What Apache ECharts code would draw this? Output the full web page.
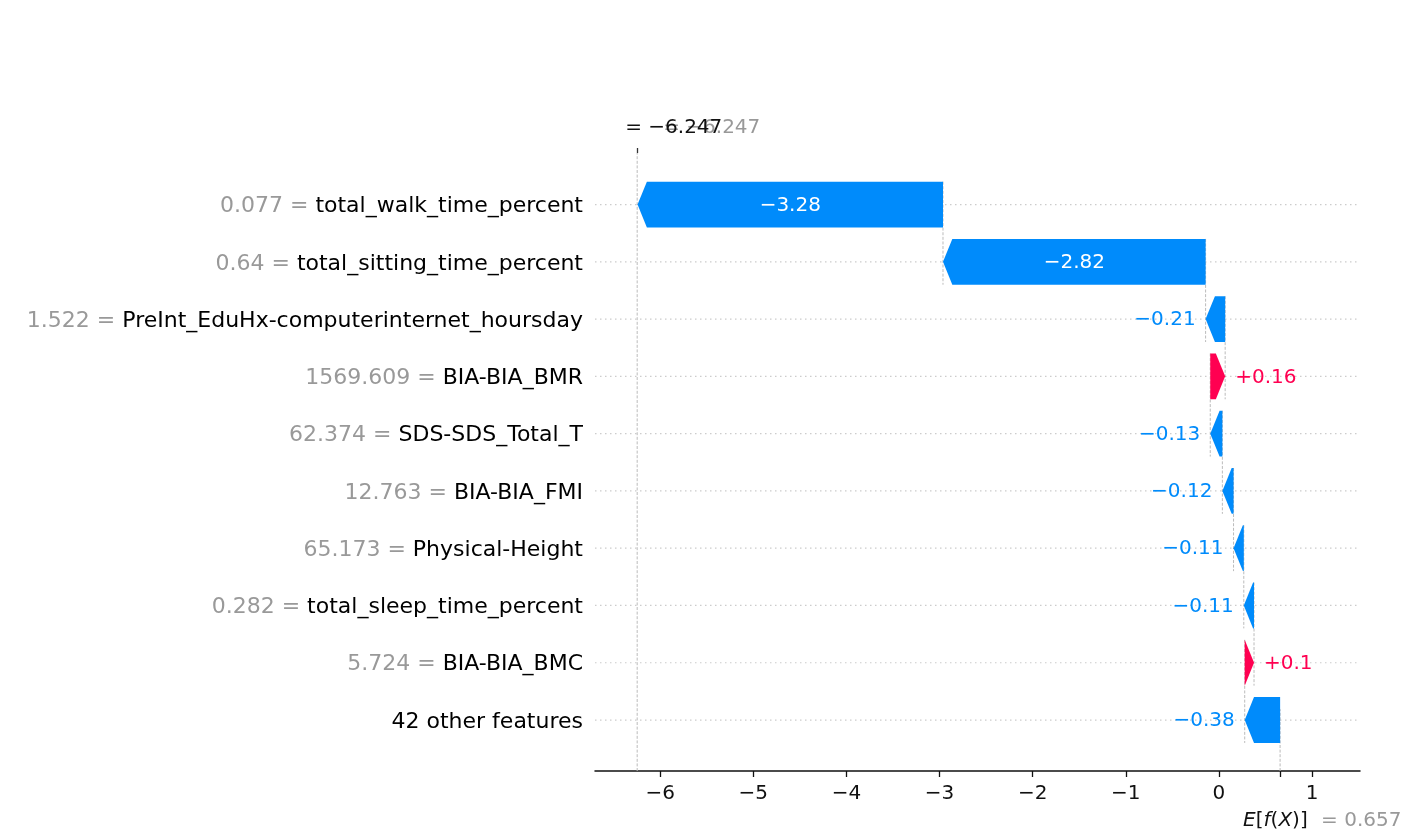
<!DOCTYPE html>
<html>
<head>
<meta charset="utf-8">
<title>SHAP waterfall</title>
<script src="https://cdn.jsdelivr.net/npm/echarts@6/dist/echarts.min.js"></script>
<style>
  html, body { margin: 0; padding: 0; background: #ffffff; }
  #chart { width: 1407px; height: 839px; }
</style>
</head>
<body>
<div id="chart"></div>
<script>
// Features listed from the top row to the bottom row
const featureNames = [
  'total_walk_time_percent',
  'total_sitting_time_percent',
  'PreInt_EduHx-computerinternet_hoursday',
  'BIA-BIA_BMR',
  'SDS-SDS_Total_T',
  'BIA-BIA_FMI',
  'Physical-Height',
  'total_sleep_time_percent',
  'BIA-BIA_BMC',
  '42 other features'
];
const featureValues = ['0.077', '0.64', '1.522', '1569.609', '62.374', '12.763', '65.173', '0.282', '5.724', ''];
const shapValues = [-3.28, -2.82, -0.21, 0.16, -0.13, -0.12, -0.11, -0.11, 0.1, -0.38];
const baseValue = 0.657;     // E[f(X)]
const outputValue = -6.247;  // f(x)
const xTickValues = [-6, -5, -4, -3, -2, -1, 0, 1];

// Axis extents and drawing constants
const X_MIN = -6.70, X_MAX = 1.515;
const Y_MIN = -0.89, Y_MAX = 9.90;
const BAR_W = 0.8;
const HEAD = 0.1;
const BLUE = '#008bfb', RED = '#ff0051';
const FONT = '"DejaVu Sans", "Liberation Sans", sans-serif';

const N = featureNames.length;
const rowOf = i => N - 1 - i;

// Running totals, accumulated upward from the expected value
const starts = new Array(N), ends = new Array(N);
let acc = baseValue;
for (let i = N - 1; i >= 0; i--) {
  starts[i] = acc;
  acc += shapValues[i];
  ends[i] = acc;
}

const arrowData = shapValues.map((v, i) => [rowOf(i), starts[i], ends[i], v]);
const guideData = featureNames.map((_, i) => [rowOf(i)]);
const connectorData = [];
for (let i = 0; i < N - 1; i++) {
  connectorData.push([starts[i], rowOf(i) + BAR_W / 2, rowOf(i + 1) - BAR_W / 2]);
}
connectorData.push([outputValue, Y_MIN, Y_MAX]);
connectorData.push([baseValue, Y_MIN, Y_MIN + (Y_MAX - Y_MIN) / N]);

const measureCtx = document.createElement('canvas').getContext('2d');
measureCtx.font = '20px ' + FONT;
const fmt = v => (v > 0 ? '+' : '\u2212') + Math.abs(v).toString();
const minus = s => String(s).replace('-', '\u2212');

const chart = echarts.init(document.getElementById('chart'), null, { renderer: 'canvas' });

chart.setOption({
  animation: false,
  backgroundColor: '#ffffff',
  textStyle: { fontFamily: FONT },
  grid: { left: 595, right: 47, top: 153, bottom: 68, containLabel: false, outerBoundsMode: 'none' },
  xAxis: [
    {
      type: 'value',
      min: X_MIN,
      max: X_MAX,
      position: 'bottom',
      axisLine: { show: true, onZero: false, lineStyle: { color: '#111', width: 1.5 } },
      axisTick: { show: true, length: 6, customValues: xTickValues.concat([baseValue]), lineStyle: { color: '#111', width: 1.3 } },
      axisLabel: {
        show: true,
        customValues: xTickValues,
        margin: 13,
        fontSize: 20,
        color: '#111',
        fontFamily: FONT,
        formatter: v => minus(v)
      },
      splitLine: { show: false }
    },
    {
      type: 'value',
      min: X_MIN,
      max: X_MAX,
      position: 'top',
      axisLine: { show: false, onZero: false },
      axisTick: { show: true, length: 5, customValues: [outputValue], lineStyle: { color: '#333', width: 1.3 } },
      axisLabel: { show: false },
      splitLine: { show: false }
    }
  ],
  yAxis: {
    type: 'value',
    min: Y_MIN,
    max: Y_MAX,
    axisLine: { show: false, onZero: false },
    axisTick: { show: false },
    splitLine: { show: false },
    axisLabel: {
      show: true,
      customValues: featureNames.map((_, i) => rowOf(i)),
      margin: 12,
      fontSize: 22,
      fontFamily: FONT,
      formatter: val => {
        const i = N - 1 - Math.round(val);
        const v = featureValues[i];
        return (v ? '{v|' + v + ' = }' : '') + '{n|' + featureNames[i] + '}';
      },
      rich: {
        v: { color: '#999999', fontSize: 22, fontFamily: FONT, padding: [4, 0, 0, 0] },
        n: { color: '#000000', fontSize: 22, fontFamily: FONT, padding: [4, 0, 0, 0] }
      }
    }
  },
  series: [
    {
      // dotted row guides
      type: 'custom',
      name: 'guides',
      z: 1,
      silent: true,
      data: guideData,
      renderItem: (params, api) => {
        const row = api.value(0);
        const a = api.coord([X_MIN, row]);
        const b = api.coord([X_MAX, row]);
        return {
          type: 'line',
          shape: { x1: a[0], y1: a[1], x2: b[0], y2: b[1] },
          style: { stroke: '#cccccc', lineWidth: 1.2, lineDash: [1.5, 3.5] }
        };
      }
    },
    {
      // dashed verticals joining consecutive arrows, plus f(x) and E[f(X)]
      type: 'custom',
      name: 'connectors',
      z: 2,
      silent: true,
      data: connectorData,
      renderItem: (params, api) => {
        const a = api.coord([api.value(0), api.value(1)]);
        const b = api.coord([api.value(0), api.value(2)]);
        return {
          type: 'line',
          shape: { x1: a[0], y1: a[1], x2: b[0], y2: b[1] },
          style: { stroke: '#bbbbbb', lineWidth: 1, lineDash: [3, 1.6] }
        };
      }
    },
    {
      // contribution arrows
      type: 'custom',
      name: 'arrows',
      z: 3,
      silent: true,
      data: arrowData,
      renderItem: (params, api) => {
        const row = api.value(0), s = api.value(1), e = api.value(2), v = api.value(3);
        const p0 = api.coord([s, row]);
        const p1 = api.coord([e, row]);
        const hh = api.size([0, BAR_W])[1] / 2;
        const unit = api.size([1, 0])[0];
        const dir = v < 0 ? -1 : 1;
        const len = Math.abs(p1[0] - p0[0]);
        const head = Math.min(len, HEAD * unit);
        const xb = p1[0] - dir * head;
        const y = p0[1];
        const color = v < 0 ? BLUE : RED;
        const label = fmt(v);
        const tw = measureCtx.measureText(label).width;
        const inside = tw < len;
        let tx, align;
        if (inside) { tx = (p0[0] + p1[0]) / 2; align = 'center'; }
        else if (v < 0) { tx = p1[0] - 10; align = 'right'; }
        else { tx = p1[0] + 10; align = 'left'; }
        return {
          type: 'group',
          children: [
            {
              type: 'polygon',
              shape: { points: [[p0[0], y - hh], [xb, y - hh], [p1[0], y], [xb, y + hh], [p0[0], y + hh]] },
              style: { fill: color, stroke: null }
            },
            {
              type: 'text',
              z2: 10,
              style: {
                x: tx, y: y + 1,
                text: label,
                fill: inside ? '#ffffff' : color,
                font: '20px ' + FONT,
                align: align,
                verticalAlign: 'middle'
              }
            }
          ]
        };
      }
    }
  ]
});

// f(x) and E[f(X)] annotations, placed at their axis positions
const fxPx = chart.convertToPixel({ gridIndex: 0 }, [outputValue, Y_MAX]);
const basePx = chart.convertToPixel({ gridIndex: 0 }, [baseValue, Y_MIN]);
const fxText = '= ' + minus(outputValue.toFixed(3));
chart.setOption({
  graphic: [
    {
      type: 'text', z: 10, left: fxPx[0] + 26, top: fxPx[1] - 35,
      style: { text: fxText, fill: '#999999', font: '20px ' + FONT }
    },
    {
      type: 'text', z: 11, left: fxPx[0] - 12, top: fxPx[1] - 35,
      style: { text: fxText, fill: '#111111', font: '20px ' + FONT }
    },
    {
      type: 'text', z: 10, left: basePx[0] - 37, top: basePx[1] + 40,
      style: {
        text: '{i|E}[{i|f}({i|X})]',
        fill: '#111111',
        font: '20px ' + FONT,
        rich: { i: { fontStyle: 'italic', fontSize: 20, fontFamily: FONT, fill: '#111111' } }
      }
    },
    {
      type: 'text', z: 10, left: basePx[0] + 41, top: basePx[1] + 40,
      style: { text: '= ' + baseValue.toFixed(3), fill: '#999999', font: '20px ' + FONT }
    }
  ]
});
</script>
</body>
</html>
